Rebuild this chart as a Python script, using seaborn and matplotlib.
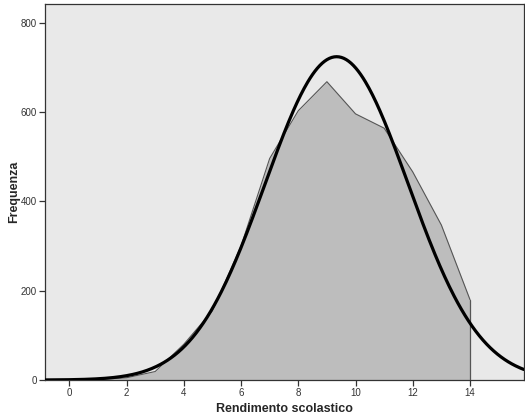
import numpy as np
import pandas as pd
import matplotlib
matplotlib.use("Agg")
import matplotlib.pyplot as plt
import seaborn as sns

# Frequency of each score on the school-performance scale
scores = [0, 1, 2, 3, 4, 5, 6, 7, 8, 9, 10, 11, 12, 13, 14]
counts = [0, 1, 5, 19, 80, 155, 300, 496, 603, 668, 596, 564, 466, 347, 180]

# Fitted normal curve parameters
mean_score = 9.34
sd_score = 2.50
n_students = 4537

x_ticks = [0, 2, 4, 6, 8, 10, 12, 14]
y_ticks = [0, 200, 400, 600, 800]

sns.set_theme(style="ticks")
plt.rcParams["font.family"] = ["Liberation Sans", "DejaVu Sans"]

df = pd.DataFrame({"score": scores, "count": counts})

fig = plt.figure(figsize=(5.25, 4.17), dpi=100)
fig.patch.set_facecolor("white")
ax = fig.add_axes([0.0857, 0.0887, 0.912, 0.9017])
ax.set_facecolor("#e9e9e9")

xmin, xmax = -0.85, 15.88
ax.set_xlim(xmin, xmax)
ax.set_ylim(0, 842)

# Area of the observed frequencies
ax.fill_between(df["score"], df["count"], 0, color="#bdbdbd", zorder=2, linewidth=0)
sns.lineplot(data=df, x="score", y="count", ax=ax, color="#555555",
             linewidth=0.8, zorder=3, legend=False)
ax.plot([scores[-1], scores[-1]], [0, counts[-1]], color="#555555", lw=0.9, zorder=3)

# Normal curve scaled to the frequencies
grid = np.linspace(xmin, xmax, 400)
dens = n_students / (sd_score * np.sqrt(2 * np.pi)) * np.exp(-0.5 * ((grid - mean_score) / sd_score) ** 2)
curve = pd.DataFrame({"score": grid, "count": dens})
sns.lineplot(data=curve, x="score", y="count", ax=ax, color="black",
             linewidth=2.3, zorder=4, legend=False)

ax.set_xticks(x_ticks)
ax.set_yticks(y_ticks)
ax.tick_params(axis="both", direction="out", length=4, width=0.9,
               color="#333333", labelsize=7, labelcolor="#333333", pad=2)

for side in ["left", "bottom", "top", "right"]:
    ax.spines[side].set_color("#333333")
    ax.spines[side].set_linewidth(0.9)

ax.set_xlabel("Rendimento scolastico", fontsize=9, fontweight="bold", labelpad=3)
ax.set_ylabel("Frequenza", fontsize=9, fontweight="bold", labelpad=0)

fig.savefig("out.png", dpi=100)
